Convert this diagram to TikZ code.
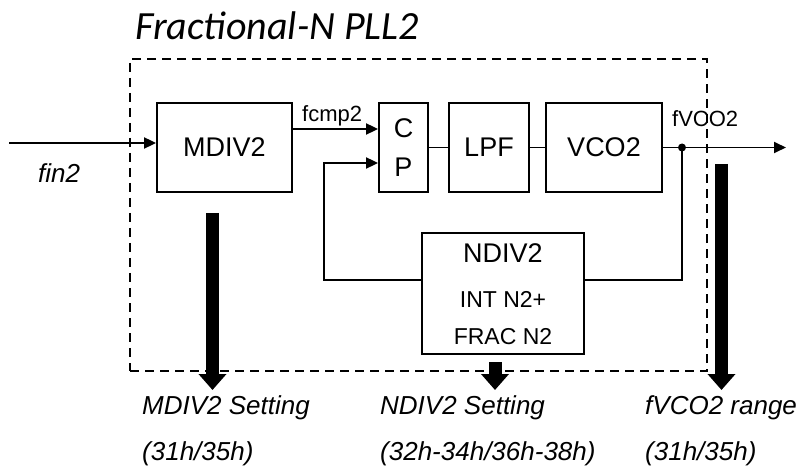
\documentclass[tikz,border=0pt]{standalone}
\usepackage{fontspec}
\setmainfont{Liberation Sans}
\newfontfamily\titlefont{Carlito}
\usetikzlibrary{arrows.meta}
\begin{document}
\begin{tikzpicture}[x=1pt,y=-1pt,
  blk/.style={draw,line width=1.8pt,minimum height=89pt,inner sep=0pt,font=\fontsize{27}{30}\selectfont},
  txt/.style={inner sep=0pt,font=\fontsize{27}{30}\selectfont},
  smalltxt/.style={inner sep=0pt,font=\fontsize{23}{26}\selectfont},
  sig/.style={inner sep=0pt,anchor=base west,font=\fontsize{22}{25}\selectfont},
  lbl/.style={inner sep=0pt,anchor=base west,font=\itshape\fontsize{26}{30}\selectfont},
  wire/.style={line width=1.8pt},
  arr/.style={line width=1.8pt,-{Triangle[length=12pt,width=11pt]}},
  fat/.style={line width=13pt,-{Triangle[length=16pt,width=27pt]}},
  frame/.style={draw,line width=1.8pt,dash pattern=on 9pt off 6pt,inner sep=0pt}
]
\useasboundingbox (0,0) rectangle (804,468);

% title
\node[inner sep=0pt,anchor=base west,font=\titlefont\itshape\fontsize{40}{44}\selectfont] (title) at (135,40) {Fractional-N PLL2};

% dashed frame
\node[frame,minimum width=577pt,minimum height=312pt] (pll) at (418.5,215) {};

% blocks
\node[blk,minimum width=135pt] (mdiv) at (224.5,147.5) {MDIV2};
\node[blk,minimum width=49pt] (cp) at (403.5,147.5) {};
\node[txt] (cpc) at (403.5,128) {C};
\node[txt] (cpp) at (403.5,167) {P};
\node[blk,minimum width=80pt] (lpf) at (489,147.5) {LPF};
\node[blk,minimum width=116pt] (vco) at (604,147.5) {VCO2};
\node[blk,minimum width=162pt,minimum height=121pt] (ndiv) at (503,293.5) {};
\node[txt] (ndivt) at (503,253) {NDIV2};
\node[smalltxt] (ndivi) at (503,299) {INT N2+};
\node[smalltxt] (ndivf) at (503,337) {FRAC N2};

% coordinates
\coordinate (fin) at (9,143);
\coordinate (dot) at (682,147.5);
\coordinate (out) at (786,147.5);
\coordinate (fbr) at (682,280);
\coordinate (fbl) at (324,280);
\coordinate (fbu) at (324,163);
\coordinate (m1) at (212.5,213);
\coordinate (m2) at (212.5,390);
\coordinate (n1) at (495,362);
\coordinate (n2) at (495,390);
\coordinate (v1) at (721.5,164);
\coordinate (v2) at (721.5,390);

% signal labels
\node[sig] (fcmp) at (302,122) {fcmp2};
\node[sig] (fvco) at (672,127) {fVCO2};
\node[lbl] (fin2) at (38,183) {fin2};

% connectors
\draw[arr] (fin) -- (mdiv.west |- fin);
\draw[arr] (mdiv.east |- 0,129) -- (cp.west |- 0,129);
\draw[arr] (ndiv.west |- fbl) -- (fbl) -- (fbu) -- (cp.west |- fbu);
\draw[wire] (cp.east) -- (lpf.west);
\draw[wire] (lpf.east) -- (vco.west);
\draw[wire] (vco.east) -- (dot);
\draw[arr] (dot) -- (out);
\draw[wire] (dot) -- (fbr) -- (ndiv.east |- fbr);
\fill (dot) circle (4pt);

% setting arrows
\draw[fat] (m1) -- (m2);
\draw[fat] (n1) -- (n2);
\draw[fat] (v1) -- (v2);

% bottom labels
\node[lbl] (ms) at (142,414) {MDIV2 Setting};
\node[lbl] (mr) at (142,460) {(31h/35h)};
\node[lbl] (ns) at (380,414) {NDIV2 Setting};
\node[lbl] (nr) at (380,460) {(32h-34h/36h-38h)};
\node[lbl] (vs) at (645,414) {fVCO2 range};
\node[lbl] (vr) at (645,460) {(31h/35h)};
\end{tikzpicture}
\end{document}
